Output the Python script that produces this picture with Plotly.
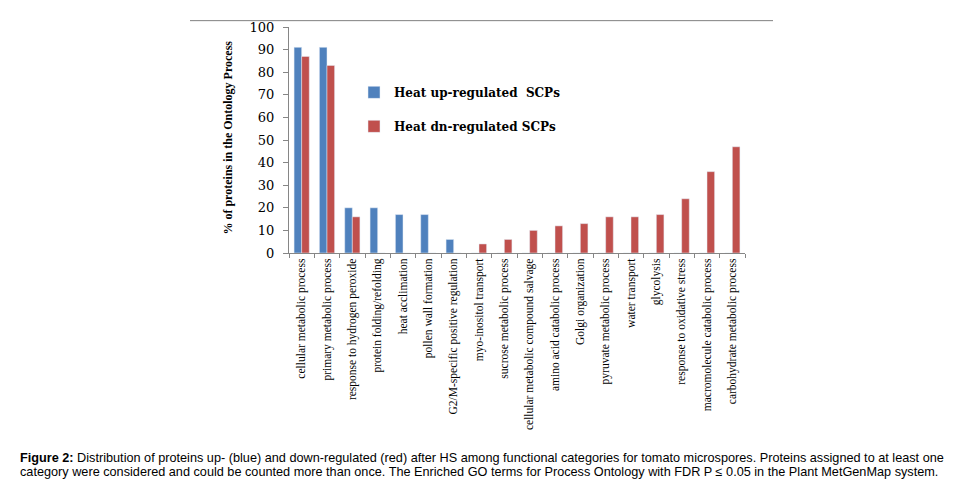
import plotly.graph_objects as go

categories = [
    "cellular metabolic process", "primary metabolic process",
    "response to hydrogen peroxide", "protein folding/refolding",
    "heat acclimation", "pollen wall formation",
    "G2/M-specific positive regulation", "myo-inositol transport",
    "sucrose metabolic process", "cellular metabolic compound salvage",
    "amino acid catabolic process", "Golgi organization",
    "pyruvate metabolic process", "water transport", "glycolysis",
    "response to oxidative stress", "macromolecule catabolic process",
    "carbohydrate metabolic process",
]
up_values = [91, 91, 20, 20, 17, 17, 6, 0, 0, 0, 0, 0, 0, 0, 0, 0, 0, 0]
dn_values = [87, 83, 16, 0, 0, 0, 0, 4, 6, 10, 12, 13, 16, 16, 17, 24, 36, 47]
y_ticks = [0, 10, 20, 30, 40, 50, 60, 70, 80, 90, 100]
up_name = "Heat up-regulated  SCPs"
dn_name = "Heat dn-regulated SCPs"
y_title = "% of proteins in the Ontology Process"
caption1 = ("<b>Figure 2:</b> Distribution of proteins up- (blue) and down-regulated (red) after HS among "
            "functional categories for tomato microspores. Proteins assigned to at least one")
caption2 = ("category were considered and could be counted more than once. The Enriched GO terms for "
            "Process Ontology with FDR P \u2264 0.05 in the Plant MetGenMap system.")

# page body has an 8px margin; work in window pixel coordinates and convert
OFF = 8
W, H = 955 - OFF, 492 - OFF
# plot area in window coords
X0, X1, Y0, Y1 = 289, 745, 22, 253
L = X0 - OFF
R = W - (X1 - OFF)
T = Y0 - OFF
B = H - (Y1 - OFF)
pw = X1 - X0
ph = Y1 - Y0


def px2x(px):
    return (px - X0) / pw


def px2y(py):
    return (Y1 - py) / ph


fig = go.Figure()
fig.add_trace(go.Bar(x=categories, y=up_values, name=up_name, marker_color="#4F81BD",
                     legendgroup="a"))
fig.add_trace(go.Bar(x=categories, y=dn_values, name=dn_name, marker_color="#C0504D",
                     legendgroup="b"))

fig.update_layout(
    width=W, height=H,
    margin=dict(l=L, r=R, t=T, b=B, pad=0),
    paper_bgcolor="white", plot_bgcolor="white",
    barmode="group", bargap=0.4, bargroupgap=0,
    legend=dict(x=px2x(354), y=px2y(74), xanchor="left", yanchor="top",
                font=dict(family="DejaVu Serif", size=12, color="black", weight="bold"),
                tracegroupgap=15, bgcolor="rgba(0,0,0,0)"),
    font=dict(family="Liberation Serif", color="black"),
)
fig.update_xaxes(
    type="category", tickangle=-90, tickson="boundaries", ticks="outside", ticklen=4,
    tickcolor="#868686", showline=True, linecolor="#868686", linewidth=1,
    showgrid=False, tickfont=dict(family="Liberation Serif", size=11.5, color="black"),
)
fig.update_yaxes(
    range=[0, 100], tickvals=y_ticks, ticks="outside", ticklen=5, tickcolor="#868686",
    showline=True, linecolor="#868686", linewidth=1, showgrid=False, zeroline=False,
    ticklabelstandoff=6,
    tickfont=dict(family="DejaVu Serif", size=13, color="black"),
)

fig.add_annotation(text="<b>" + y_title + "</b>", textangle=-90, xref="paper", yref="paper",
                   x=px2x(228), y=px2y(135), xanchor="center", yanchor="middle",
                   showarrow=False, font=dict(family="Liberation Serif", size=12, color="black"))
fig.add_annotation(text=caption1, xref="paper", yref="paper", x=px2x(18), y=px2y(463),
                   xanchor="left", yanchor="middle", showarrow=False, align="left",
                   font=dict(family="Liberation Sans", size=12.7, color="black"))
fig.add_annotation(text=caption2, xref="paper", yref="paper", x=px2x(18), y=px2y(477),
                   xanchor="left", yanchor="middle", showarrow=False, align="left",
                   font=dict(family="Liberation Sans", size=12.7, color="black"))
fig.add_shape(type="line", xref="paper", yref="paper", x0=px2x(190), x1=px2x(773),
              y0=px2y(15.5), y1=px2y(15.5), line=dict(color="#808080", width=1))

fig.write_html("out.html")
